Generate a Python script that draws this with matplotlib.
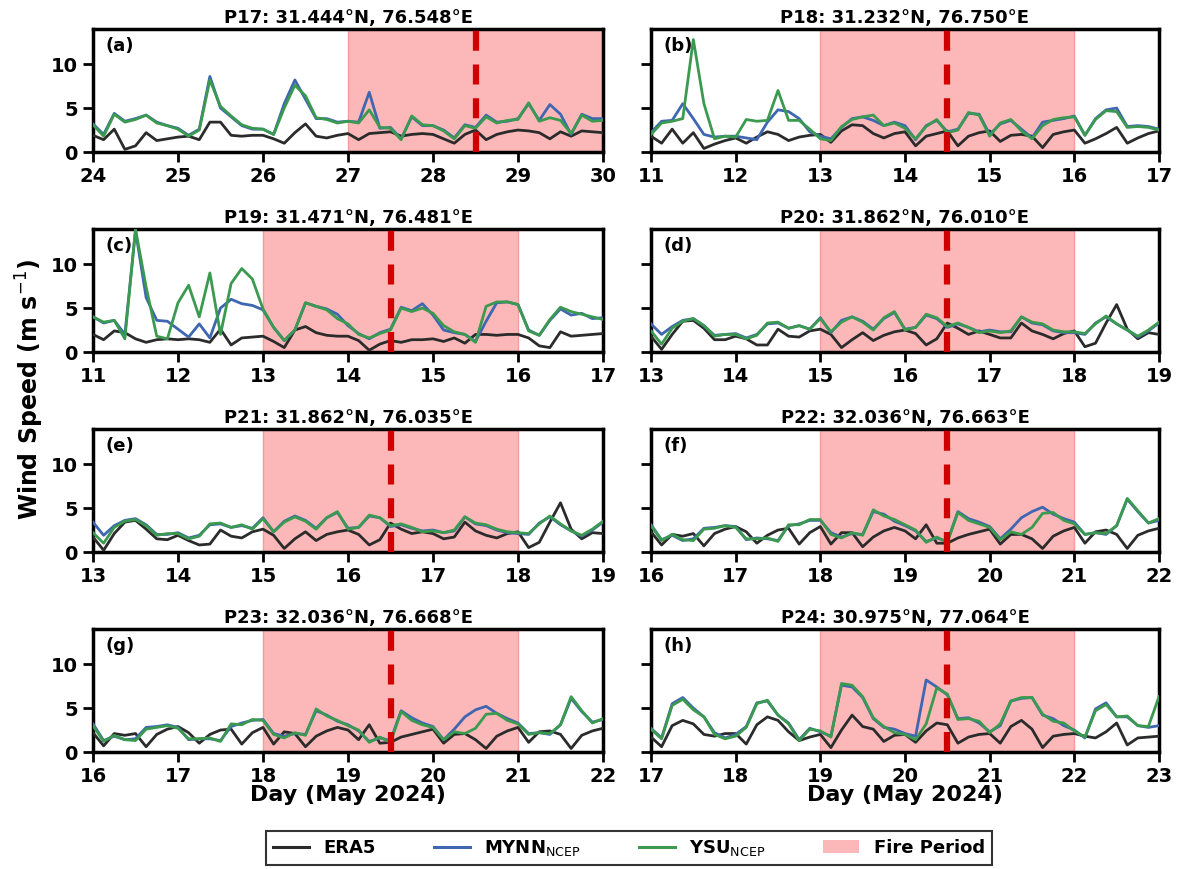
import numpy as np
import matplotlib
matplotlib.use("Agg")
import matplotlib.pyplot as plt
from matplotlib.patches import Patch
from matplotlib.lines import Line2D

# ---------------- data (3-hourly wind speed, m/s) ----------------
panel_labels = ["(a)", "(b)", "(c)", "(d)", "(e)", "(f)", "(g)", "(h)"]
titles = ["P17: 31.444°N, 76.548°E", "P18: 31.232°N, 76.750°E",
          "P19: 31.471°N, 76.481°E", "P20: 31.862°N, 76.010°E",
          "P21: 31.862°N, 76.035°E", "P22: 32.036°N, 76.663°E",
          "P23: 32.036°N, 76.668°E", "P24: 30.975°N, 77.064°E"]
start_days = [24, 11, 11, 13, 13, 16, 16, 17]
fire_start = [27, 13, 13, 15, 15, 18, 18, 19]
fire_end = [30, 16, 16, 18, 18, 21, 21, 22]
event_day = [28.5, 14.5, 14.5, 16.5, 16.5, 19.5, 19.5, 20.5]

era5_a = [1.9, 1.4, 2.6, 0.3, 0.7, 2.2, 1.3, 1.5, 1.7, 1.8, 1.4, 3.4, 3.4, 1.9, 1.8, 1.9,
          1.9, 1.5, 1.0, 2.2, 3.2, 1.8, 1.6, 1.9, 2.1, 1.4, 2.1, 2.2, 2.3, 1.8, 2.0, 2.1,
          2.0, 1.5, 1.0, 2.0, 2.5, 1.4, 2.0, 2.3, 2.5, 2.4, 2.2, 1.5, 2.3, 1.8, 2.4, 2.3, 2.2]
mynn_a = [3.2, 2.0, 4.4, 3.5, 3.8, 4.2, 3.4, 3.0, 2.7, 1.9, 2.6, 8.6, 5.0, 4.0, 3.0, 2.6,
          2.6, 2.0, 5.5, 8.2, 6.0, 3.8, 3.8, 3.4, 3.5, 3.4, 6.8, 2.7, 2.8, 1.5, 4.0, 3.0,
          3.0, 2.5, 1.6, 3.1, 2.8, 4.2, 3.4, 3.5, 3.8, 5.5, 3.6, 5.4, 4.3, 2.0, 4.3, 3.8, 3.8]
ysu_a = [3.1, 1.8, 4.3, 3.4, 3.7, 4.2, 3.3, 3.0, 2.6, 1.8, 2.5, 8.2, 5.2, 4.1, 3.1, 2.7,
         2.6, 2.0, 5.0, 7.6, 6.4, 3.9, 3.7, 3.3, 3.5, 3.3, 4.8, 2.8, 2.7, 1.4, 4.1, 3.1,
         3.0, 2.4, 1.5, 3.0, 2.7, 4.0, 3.3, 3.6, 3.7, 5.6, 3.5, 3.9, 3.6, 2.1, 4.2, 3.5, 3.6]

era5_b = [1.8, 1.0, 2.6, 1.0, 2.2, 0.4, 0.9, 1.3, 1.6, 1.0, 1.7, 2.3, 2.0, 1.3, 1.7, 1.9,
          2.0, 1.1, 2.4, 3.1, 3.0, 2.1, 1.6, 2.1, 2.3, 0.7, 1.8, 2.1, 2.4, 0.7, 1.8, 2.2,
          2.4, 1.2, 1.9, 2.0, 1.8, 0.5, 2.0, 2.3, 2.5, 1.0, 1.5, 2.1, 2.8, 1.0, 1.6, 2.1, 2.4]
mynn_b = [2.2, 3.5, 3.6, 5.5, 3.8, 2.0, 1.7, 1.8, 1.8, 1.6, 1.4, 3.4, 4.8, 4.6, 3.8, 2.3,
          1.8, 1.5, 2.8, 3.8, 4.0, 3.6, 3.0, 3.4, 3.0, 1.4, 3.0, 3.6, 2.3, 2.6, 4.4, 4.3,
          2.0, 3.2, 3.6, 2.6, 1.6, 3.4, 3.6, 3.8, 4.1, 1.9, 3.8, 4.8, 5.0, 2.9, 3.0, 2.9, 2.6]
ysu_b = [2.0, 3.3, 3.5, 3.8, 12.8, 5.5, 1.5, 1.8, 1.7, 3.7, 3.5, 3.6, 7.0, 3.6, 3.6, 2.6,
         1.5, 1.3, 2.9, 3.7, 4.0, 4.2, 3.0, 3.3, 2.7, 1.5, 2.9, 3.7, 2.2, 2.5, 4.5, 4.2,
         1.8, 3.3, 3.7, 2.4, 1.5, 3.0, 3.7, 3.9, 4.0, 1.9, 3.7, 4.7, 4.6, 2.8, 2.9, 2.8, 2.5]

era5_c = [2.0, 1.4, 2.4, 2.2, 1.5, 1.1, 1.4, 1.5, 1.4, 1.5, 1.4, 1.1, 2.6, 0.8, 1.6, 1.7,
          1.8, 1.2, 0.5, 2.5, 2.9, 2.2, 1.9, 1.8, 1.8, 1.3, 0.2, 0.9, 1.3, 1.1, 1.4, 1.4,
          1.5, 1.2, 1.6, 1.0, 2.0, 2.0, 1.9, 2.0, 2.0, 1.6, 0.7, 0.5, 2.3, 1.8, 1.9, 2.0, 2.1]
mynn_c = [4.0, 3.3, 3.6, 2.0, 13.8, 6.2, 3.6, 3.5, 2.6, 1.7, 3.2, 1.6, 5.0, 6.0, 5.5, 5.3,
          4.8, 2.8, 1.3, 2.5, 5.6, 5.2, 4.9, 4.3, 3.0, 2.1, 1.5, 2.2, 2.6, 5.1, 4.7, 5.5,
          4.2, 2.5, 2.2, 2.0, 1.2, 3.5, 5.6, 5.7, 5.4, 2.5, 1.9, 3.6, 4.9, 4.2, 4.4, 3.8, 3.9]
ysu_c = [4.0, 3.4, 3.6, 1.5, 14.0, 7.4, 1.8, 1.5, 5.6, 7.6, 4.0, 9.0, 2.0, 7.8, 9.5, 8.3,
         4.9, 2.8, 1.3, 2.5, 5.6, 5.2, 4.8, 3.8, 3.2, 2.0, 1.6, 2.1, 2.5, 5.0, 4.6, 5.0,
         4.4, 3.0, 2.3, 2.0, 1.1, 5.2, 5.7, 5.7, 5.4, 2.4, 1.9, 3.7, 5.1, 4.6, 4.3, 4.0, 3.7]

era5_d = [1.8, 0.3, 2.0, 3.5, 3.6, 2.7, 1.4, 1.4, 1.8, 1.5, 0.8, 0.8, 2.6, 1.8, 1.7, 2.4,
          2.6, 2.0, 0.5, 1.4, 2.2, 1.3, 1.9, 2.3, 2.5, 2.1, 0.8, 1.5, 3.3, 2.7, 2.0, 2.4,
          2.0, 1.6, 1.6, 3.3, 2.4, 2.0, 1.5, 2.1, 2.4, 0.6, 1.0, 3.3, 5.4, 2.6, 1.5, 2.2, 2.0]
mynn_d = [3.2, 2.0, 2.9, 3.6, 3.8, 3.0, 1.9, 2.0, 2.1, 1.6, 2.0, 3.2, 3.3, 2.7, 3.0, 2.6,
          3.9, 2.2, 3.6, 4.0, 3.5, 2.6, 3.8, 4.5, 2.6, 2.8, 4.2, 3.8, 2.8, 3.2, 2.8, 2.3,
          2.5, 2.3, 2.3, 4.0, 3.3, 3.1, 2.4, 2.2, 2.2, 2.0, 3.3, 4.0, 3.2, 2.5, 1.7, 2.4, 3.3]
ysu_d = [2.4, 0.9, 2.7, 3.5, 3.8, 3.0, 1.8, 2.0, 2.0, 1.5, 1.9, 3.3, 3.4, 2.7, 3.0, 2.6,
         3.8, 2.3, 3.4, 4.0, 3.4, 2.5, 3.9, 4.6, 2.5, 2.8, 4.3, 3.9, 2.9, 3.3, 2.8, 2.2,
         2.4, 2.2, 2.4, 4.0, 3.4, 3.2, 2.5, 2.3, 2.3, 2.1, 3.2, 4.1, 3.2, 2.5, 1.8, 2.5, 3.4]

era5_e = [1.7, 0.2, 2.1, 3.4, 3.6, 2.6, 1.5, 1.4, 1.9, 1.3, 0.8, 0.9, 2.5, 1.8, 1.6, 2.3,
          2.6, 1.9, 0.4, 1.5, 2.3, 1.3, 2.0, 2.3, 2.5, 2.0, 0.8, 1.4, 3.3, 2.6, 2.1, 2.3,
          2.1, 1.5, 1.7, 3.4, 2.4, 1.9, 1.6, 2.1, 2.3, 0.5, 1.1, 3.4, 5.6, 2.6, 1.5, 2.2, 2.1]
mynn_e = [3.4, 1.9, 3.0, 3.6, 3.8, 3.1, 2.0, 2.0, 2.2, 1.6, 1.9, 3.1, 3.2, 2.8, 3.0, 2.7,
          3.9, 2.3, 3.5, 4.1, 3.6, 2.7, 3.9, 4.5, 2.7, 2.8, 4.1, 3.9, 2.9, 3.1, 2.7, 2.4,
          2.5, 2.2, 2.4, 4.0, 3.2, 3.0, 2.5, 2.2, 2.1, 2.0, 3.3, 4.0, 3.1, 2.4, 1.8, 2.5, 3.4]
ysu_e = [2.2, 1.0, 2.8, 3.5, 3.7, 3.0, 1.9, 2.1, 2.1, 1.5, 1.8, 3.2, 3.3, 2.8, 3.1, 2.6,
         3.8, 2.3, 3.4, 4.0, 3.5, 2.6, 3.9, 4.6, 2.6, 2.8, 4.2, 3.9, 3.0, 3.2, 2.8, 2.3,
         2.4, 2.2, 2.5, 4.0, 3.3, 3.1, 2.6, 2.3, 2.2, 2.1, 3.2, 4.1, 3.2, 2.4, 1.9, 2.6, 3.5]

era5_f = [2.3, 0.8, 2.0, 1.8, 2.1, 0.7, 2.1, 2.6, 2.9, 2.3, 1.0, 1.9, 2.5, 2.7, 0.9, 2.2,
          2.9, 0.9, 2.2, 2.2, 0.6, 1.7, 2.4, 2.8, 2.4, 1.5, 3.1, 1.0, 1.0, 1.6, 2.0, 2.3,
          2.6, 0.9, 2.0, 2.0, 1.5, 0.4, 1.8, 2.4, 2.8, 1.0, 2.3, 2.5, 2.0, 0.4, 1.9, 2.4, 2.7]
mynn_f = [3.1, 1.4, 1.9, 1.3, 1.5, 2.7, 2.8, 3.0, 2.9, 1.4, 1.6, 1.5, 1.3, 3.0, 3.2, 3.6,
          3.6, 2.2, 1.7, 2.1, 2.0, 4.6, 4.3, 3.5, 3.0, 2.4, 1.2, 1.6, 1.2, 4.6, 3.8, 3.4,
          2.9, 1.5, 2.6, 3.9, 4.6, 5.1, 4.3, 3.8, 3.4, 2.0, 2.2, 2.0, 3.0, 6.0, 4.6, 3.3, 3.6]
ysu_f = [3.0, 1.3, 2.0, 1.4, 1.3, 2.6, 2.7, 3.0, 2.8, 1.5, 1.5, 1.6, 1.2, 3.1, 3.1, 3.7,
         3.7, 2.0, 1.6, 2.2, 1.9, 4.8, 4.1, 3.7, 3.1, 2.5, 1.1, 1.7, 1.1, 4.5, 3.6, 3.2,
         2.8, 1.4, 2.3, 2.0, 2.8, 4.4, 4.5, 3.6, 3.2, 2.0, 2.2, 2.1, 3.0, 6.1, 4.7, 3.3, 3.8]

era5_g = [2.2, 0.7, 2.1, 1.9, 2.1, 0.6, 2.0, 2.6, 2.9, 2.2, 1.0, 2.0, 2.5, 2.6, 0.9, 2.2,
          2.8, 0.9, 2.3, 2.1, 0.6, 1.8, 2.4, 2.8, 2.5, 1.4, 3.1, 1.0, 1.1, 1.7, 2.0, 2.3,
          2.6, 1.0, 2.0, 2.1, 1.4, 0.4, 1.8, 2.4, 2.8, 1.1, 2.3, 2.4, 2.0, 0.4, 1.9, 2.4, 2.7]
mynn_g = [3.2, 1.3, 1.8, 1.4, 1.5, 2.8, 2.9, 3.1, 2.8, 1.4, 1.5, 1.5, 1.3, 2.9, 3.3, 3.6,
          3.7, 2.1, 1.8, 2.1, 2.0, 4.7, 4.2, 3.5, 3.1, 2.4, 1.2, 1.6, 1.3, 4.7, 3.9, 3.3,
          2.9, 1.4, 2.6, 4.0, 4.8, 5.2, 4.4, 3.8, 3.3, 2.1, 2.2, 2.0, 3.1, 6.1, 4.6, 3.4, 3.7]
ysu_g = [3.0, 1.2, 1.9, 1.4, 1.3, 2.6, 2.8, 3.0, 2.7, 1.5, 1.5, 1.6, 1.2, 3.2, 3.1, 3.7,
         3.6, 2.0, 1.6, 2.2, 1.9, 4.9, 4.1, 3.6, 3.0, 2.5, 1.1, 1.7, 1.1, 4.6, 3.6, 3.1,
         2.8, 1.4, 2.3, 2.1, 2.7, 4.3, 4.4, 3.6, 3.2, 2.0, 2.2, 2.1, 3.1, 6.3, 4.7, 3.3, 3.8]

era5_h = [1.7, 0.6, 3.0, 3.6, 3.2, 2.0, 1.8, 2.1, 2.1, 0.9, 3.1, 4.0, 3.6, 2.3, 1.3, 1.7,
          2.0, 0.5, 2.5, 4.2, 2.9, 2.6, 1.2, 1.9, 2.0, 1.1, 2.4, 3.3, 3.1, 1.0, 1.7, 2.0,
          2.1, 1.0, 2.9, 3.6, 2.6, 0.5, 1.8, 2.0, 2.1, 1.8, 1.6, 2.3, 3.3, 0.8, 1.6, 1.7, 1.8]
mynn_h = [2.7, 1.6, 5.5, 6.2, 5.0, 4.0, 2.2, 1.6, 2.0, 2.9, 5.6, 5.8, 4.2, 3.3, 1.4, 2.7,
          2.3, 1.8, 7.6, 7.4, 6.2, 3.8, 2.8, 2.6, 2.1, 1.8, 8.2, 7.4, 6.5, 3.8, 3.9, 3.3,
          2.3, 3.0, 5.8, 6.1, 6.2, 4.2, 3.8, 3.0, 2.5, 1.6, 4.9, 5.6, 4.0, 4.0, 3.0, 2.8, 3.0]
ysu_h = [2.6, 1.5, 5.3, 6.0, 4.8, 4.0, 2.0, 1.5, 1.8, 2.8, 5.5, 5.9, 4.2, 3.2, 1.3, 2.6,
         2.4, 1.7, 7.8, 7.6, 6.3, 3.9, 2.9, 2.2, 2.0, 1.4, 3.2, 7.3, 6.6, 3.7, 3.8, 3.5,
         2.2, 3.2, 5.8, 6.2, 6.2, 4.3, 3.5, 3.3, 2.4, 1.7, 4.7, 5.4, 4.0, 4.1, 3.0, 2.9, 6.3]

era5_all = [era5_a, era5_b, era5_c, era5_d, era5_e, era5_f, era5_g, era5_h]
mynn_all = [mynn_a, mynn_b, mynn_c, mynn_d, mynn_e, mynn_f, mynn_g, mynn_h]
ysu_all = [ysu_a, ysu_b, ysu_c, ysu_d, ysu_e, ysu_f, ysu_g, ysu_h]

# ---------------- style ----------------
plt.rcParams['font.family'] = ['DejaVu Sans']
plt.rcParams['font.weight'] = 'bold'
plt.rcParams['axes.labelweight'] = 'bold'
plt.rcParams['axes.titleweight'] = 'bold'
plt.rcParams['mathtext.fontset'] = 'custom'
plt.rcParams['mathtext.rm'] = 'DejaVu Sans:weight=normal'
plt.rcParams['mathtext.it'] = 'DejaVu Sans:weight=normal:style=italic'
plt.rcParams['mathtext.bf'] = 'DejaVu Sans:weight=bold'
plt.rcParams['mathtext.default'] = 'rm'

c_era5 = '#2b2b2b'
c_mynn = '#3f66b0'
c_ysu = '#3b9a4f'
c_fire = '#fcb8b8'
c_event = '#d00000'

W, H = 1183, 869
fig = plt.figure(figsize=(W / 100, H / 100), dpi=100)

col_x = [93, 651]
col_w = [510, 508]
row_top = [29, 229, 429, 629]
ax_h = 123

axes = []
for k in range(8):
    r, c = divmod(k, 2)
    left = col_x[c] / W
    bottom = 1 - (row_top[r] + ax_h) / H
    ax = fig.add_axes([left, bottom, col_w[c] / W, ax_h / H])
    axes.append(ax)

    n = len(era5_all[k])
    t = start_days[k] + np.arange(n) / 8.0

    ax.axvspan(fire_start[k], fire_end[k], color=c_fire, zorder=0, lw=0)
    ax.axvline(fire_start[k], color='#f29c9c', lw=1, zorder=0.5)
    ax.axvline(fire_end[k], color='#f29c9c', lw=1, zorder=0.5)
    ax.plot(t, era5_all[k], color=c_era5, lw=2.0, zorder=3)
    ax.plot(t, mynn_all[k], color=c_mynn, lw=2.0, zorder=4)
    ax.plot(t, ysu_all[k], color=c_ysu, lw=2.0, zorder=5)
    ax.axvline(event_day[k], color=c_event, lw=4.5, ls=(0, (3.2, 2.2)), zorder=6)

    ax.set_xlim(start_days[k], start_days[k] + 6)
    ax.set_ylim(0, 14)
    ax.set_xticks(np.arange(start_days[k], start_days[k] + 7))
    ax.set_yticks([0, 5, 10])
    if c == 1:
        ax.set_yticklabels([])
    ax.tick_params(axis='both', labelsize=14, width=2, length=7, pad=4)
    for lab in ax.get_xticklabels() + ax.get_yticklabels():
        lab.set_fontweight('bold')
    for s in ax.spines.values():
        s.set_linewidth(2.5)
    ax.set_title(titles[k], fontsize=13, fontweight='bold', pad=4)
    ax.text(0.025, 0.86, panel_labels[k], transform=ax.transAxes,
            fontsize=13, fontweight='bold', va='center', ha='left', zorder=10)
    if r == 3:
        ax.set_xlabel('Day (May 2024)', fontsize=16, fontweight='bold', labelpad=-1)

fig.text(30 / W, 1 - 390 / H, 'Wind Speed (m s$^{-1}$)', rotation=90,
         fontsize=17, fontweight='bold', ha='center', va='center')

handles = [Line2D([0], [0], color=c_era5, lw=2.2),
           Line2D([0], [0], color=c_mynn, lw=2.2),
           Line2D([0], [0], color=c_ysu, lw=2.2),
           Patch(facecolor=c_fire, edgecolor='none')]
labels = ['ERA5', 'MYNN$_{\\mathrm{NCEP}}$', 'YSU$_{\\mathrm{NCEP}}$', 'Fire Period']
leg = fig.legend(handles, labels, loc='lower center', bbox_to_anchor=(629 / W, -0.006),
                 ncol=4, frameon=True, fancybox=False,
                 edgecolor='black', handlelength=2.0, columnspacing=3.2,
                 borderpad=0.4, handletextpad=0.8, prop={'weight': 'bold', 'size': 13})
leg.get_frame().set_linewidth(1.5)

fig.savefig('out.png', dpi=100)
